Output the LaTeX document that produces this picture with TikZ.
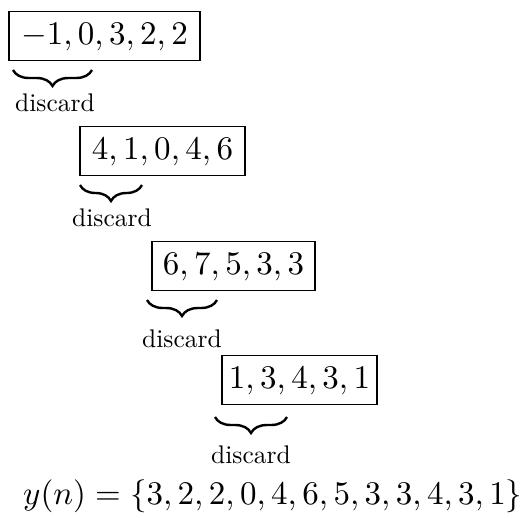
\documentclass[tikz,border=0pt]{standalone}
\usepackage{graphicx}
\usetikzlibrary{decorations.pathreplacing}
\newcommand{\bigmath}[1]{\scalebox{3.3}{$#1$}}
\newcommand{\disctext}{\scalebox{2.55}{discard}}
\begin{document}
\begin{tikzpicture}[x=1pt,y=-1pt,
  seqbox/.style={draw,line width=1.4pt,inner sep=0pt,minimum height=49pt,
    text height=23pt,text depth=6.6pt},
  bracemark/.style={decorate,decoration={brace,mirror,amplitude=16pt},line width=2.4pt},
  disclabel/.style={anchor=base,inner sep=0pt}]
\useasboundingbox (0,0) rectangle (530,517);
\node[seqbox,minimum width=191pt] (s1) at (104.5,36) {\bigmath{-1,0,3,2,2}};
\node[seqbox,minimum width=165pt] (s2) at (162.5,151) {\bigmath{4,1,0,4,6}};
\node[seqbox,minimum width=163pt] (s3) at (233.5,266) {\bigmath{6,7,5,3,3}};
\node[seqbox,minimum width=155pt] (s4) at (299.5,380) {\bigmath{1,3,4,3,1}};
\coordinate (b1a) at (13,70);  \coordinate (b1b) at (92,70);
\coordinate (b2a) at (80,185); \coordinate (b2b) at (142,185);
\coordinate (b3a) at (147,300); \coordinate (b3b) at (217,300);
\coordinate (b4a) at (215,417); \coordinate (b4b) at (287,417);
\draw[bracemark] (b1a) -- (b1b);
\draw[bracemark] (b2a) -- (b2b);
\draw[bracemark] (b3a) -- (b3b);
\draw[bracemark] (b4a) -- (b4b);
\node[disclabel] (d1) at (55,111) {\disctext};
\node[disclabel] (d2) at (112,226) {\disctext};
\node[disclabel] (d3) at (182,347) {\disctext};
\node[disclabel] (d4) at (251,463) {\disctext};
\node[anchor=base west,inner sep=0pt] (y) at (23,504)
  {\bigmath{y(n)=\{3,2,2,0,4,6,5,3,3,4,3,1\}}};
\end{tikzpicture}
\end{document}
